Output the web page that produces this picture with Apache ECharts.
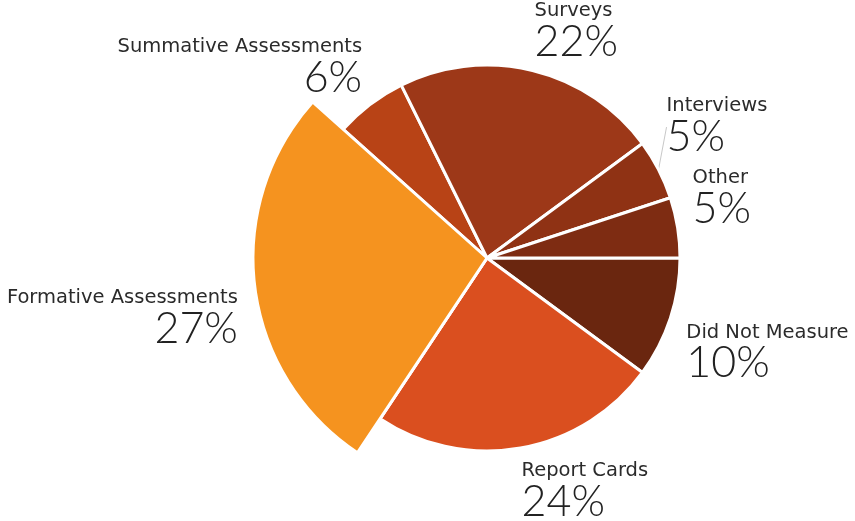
<!DOCTYPE html>
<html>
<head>
<meta charset="utf-8">
<title>How schools measured progress</title>
<script src="https://cdn.jsdelivr.net/npm/echarts@6/dist/echarts.min.js"></script>
<style>
  html, body { margin: 0; padding: 0; background: #ffffff; }
  #chart { width: 855px; height: 521px; }
</style>
</head>
<body>
<div id="chart"></div>
<script>
// Slice order runs clockwise from 3 o'clock.
const categories = ['Did Not Measure', 'Report Cards', 'Formative Assessments', 'Summative Assessments', 'Surveys', 'Interviews', 'Other'];
const shares = [10, 24, 27, 6, 22, 5, 5];
const highlighted = 'Formative Assessments';

// Styling, kept apart from the values.
const sliceColors = ['#6A260F', '#DA4F1F', '#F5931F', '#B84316', '#9D3818', '#8F3214', '#7E2C12'];
// Label nudges (px) from the default outside anchor, by slice index.
const labelNudges = [[11, 33], [-4, 42], [-12, 29], [-3, -39], [-3, -41], [3, -45], [10, -31]];

const CENTER = [487, 258];
const R_MAIN = 193;
const R_HIGHLIGHT = 234;

const nameFont = 'DejaVu Sans';
const pctFont = 'Lato';

const labelRich = {
  n: { fontFamily: nameFont, fontSize: 19.5, lineHeight: 22, color: '#2b2b2b' },
  p: { fontFamily: pctFont, fontSize: 43, fontWeight: 300, lineHeight: 40, color: '#222222' }
};

function nudgedLayout(params) {
  const r = params.labelRect;
  const nudge = labelNudges[params.dataIndex] || [0, 0];
  let ax = r.x;
  if (params.align === 'right') ax = r.x + r.width;
  else if (params.align === 'center') ax = r.x + r.width / 2;
  let ay = r.y + r.height / 2;
  if (params.verticalAlign === 'top') ay = r.y;
  else if (params.verticalAlign === 'bottom') ay = r.y + r.height;
  return { x: ax + nudge[0], y: ay + nudge[1] };
}

const baseLabel = {
  show: true,
  position: 'outside',
  formatter: '{n|{b}}\n{p|{c}%}',
  rich: labelRich
};

const mainData = categories.map((name, i) => {
  const isHighlighted = name === highlighted;
  const showLine = name === 'Interviews';
  return {
    name: name,
    value: shares[i],
    itemStyle: { color: sliceColors[i] },
    label: { show: !isHighlighted },
    labelLine: { show: showLine, length: 0, length2: 0, lineStyle: { color: '#c8c8c8', width: 1 } }
  };
});

const highlightData = categories.map((name, i) => {
  const isHighlighted = name === highlighted;
  return {
    name: name,
    value: shares[i],
    itemStyle: isHighlighted
      ? { color: sliceColors[i], borderColor: '#ffffff', borderWidth: 3 }
      : { color: 'rgba(0,0,0,0)', borderWidth: 0 },
    label: { show: isHighlighted },
    labelLine: { show: false }
  };
});

const chart = echarts.init(document.getElementById('chart'), null, { renderer: 'canvas' });
chart.setOption({
  animation: false,
  backgroundColor: '#ffffff',
  series: [
    {
      type: 'pie',
      center: CENTER,
      radius: [0, R_MAIN],
      startAngle: 0,
      clockwise: true,
      avoidLabelOverlap: false,
      silent: true,
      itemStyle: { borderColor: '#ffffff', borderWidth: 3 },
      label: baseLabel,
      labelLine: { length: 0, length2: 0 },
      labelLayout: nudgedLayout,
      data: mainData,
      z: 1
    },
    {
      type: 'pie',
      center: CENTER,
      radius: [0, R_HIGHLIGHT],
      startAngle: 0,
      clockwise: true,
      avoidLabelOverlap: false,
      silent: true,
      label: baseLabel,
      labelLine: { show: false, length: 0, length2: 0 },
      labelLayout: nudgedLayout,
      data: highlightData,
      z: 2
    }
  ]
});
</script>
</body>
</html>
